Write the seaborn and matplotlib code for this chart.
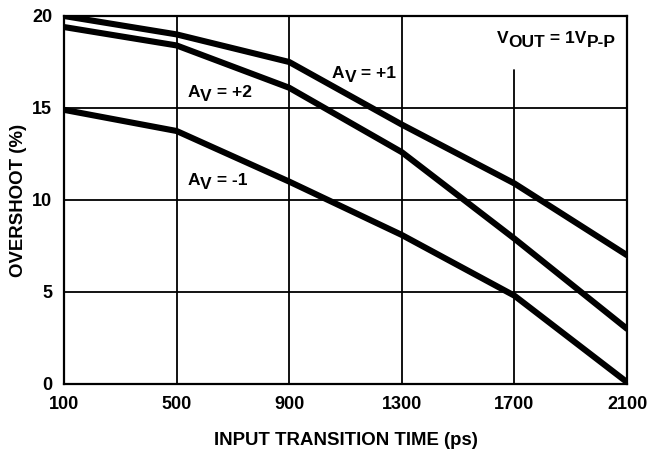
import matplotlib
matplotlib.use("Agg")
import matplotlib.pyplot as plt
import seaborn as sns
import pandas as pd

x_vals = [100, 500, 900, 1300, 1700, 2100]
av_p1 = [20.0, 19.0, 17.5, 14.1, 10.9, 7.0]
av_p2 = [19.4, 18.4, 16.1, 12.6, 7.9, 3.0]
av_m1 = [14.9, 13.75, 11.0, 8.1, 4.8, 0.1]
series_names = ["AV=+1", "AV=+2", "AV=-1"]
x_ticks = [100, 500, 900, 1300, 1700, 2100]
y_ticks = [0, 5, 10, 15, 20]

sns.set_theme(style="white")
plt.rcParams["font.family"] = ["Liberation Sans", "DejaVu Sans"]
plt.rcParams["font.weight"] = "bold"

rows = []
for name, ys in zip(series_names, [av_p1, av_p2, av_m1]):
    for xv, yv in zip(x_vals, ys):
        rows.append({"x": xv, "y": yv, "series": name})
df = pd.DataFrame(rows)

fig = plt.figure(figsize=(6.61, 4.53), dpi=100)
ax = fig.add_axes([64/661, 1-384/453, (627-64)/661, (384-16)/453])

for xt in x_ticks[1:-1]:
    top = 0.853 if xt == 1700 else 1.0
    ax.axvline(xt, ymin=0, ymax=top, color="black", lw=1.3, zorder=1)
for yt in y_ticks[1:-1]:
    ax.axhline(yt, color="black", lw=1.3, zorder=1)

sns.lineplot(data=df, x="x", y="y", hue="series",
             palette={n: "black" for n in series_names},
             lw=4.4, legend=False, ax=ax, zorder=3, sort=False)

ax.set_xlim(100, 2100)
ax.set_ylim(0, 20)
ax.set_xticks(x_ticks)
ax.set_yticks(y_ticks)
ax.set_xticklabels([str(t) for t in x_ticks], fontsize=13, fontweight="bold")
ax.set_yticklabels([str(t) for t in y_ticks], fontsize=13, fontweight="bold")
ax.tick_params(axis="x", length=0, pad=8.5, colors="black")
ax.tick_params(axis="y", length=0, pad=8.5, colors="black")
for s in ax.spines.values():
    s.set_color("black")
    s.set_linewidth(1.6)

ax.set_xlabel("INPUT TRANSITION TIME (ps)", fontsize=13.4, fontweight="bold", labelpad=14, color="black")
ax.set_ylabel("OVERSHOOT (%)", fontsize=13.4, fontweight="bold", labelpad=4, color="black")


def sub_label(x, y, parts, size=12.5, drop=3.2):
    """parts: list of (text, is_subscript)"""
    level_prev = 0.0
    t = None
    for s, is_sub in parts:
        level = -drop if is_sub else 0.0
        if t is None:
            t = ax.text(x, y, s, ha="left", va="baseline", fontsize=size,
                        fontweight="bold", color="black", zorder=5)
        else:
            t = ax.annotate(s, xy=(1, 0), xycoords=t,
                            xytext=(0, level - level_prev), textcoords="offset points",
                            ha="left", va="bottom", fontsize=size,
                            fontweight="bold", color="black", zorder=5)
        level_prev = level
    return t


sub_label(540, 15.6, [("A", False), ("V", True), (" = +2", False)])
sub_label(1052, 16.63, [("A", False), ("V", True), (" = +1", False)])
sub_label(540, 10.82, [("A", False), ("V", True), (" = -1", False)])
sub_label(1638, 18.53, [("V", False), ("OUT", True), (" = 1V", False), ("P-P", True)])

fig.savefig("out.png", dpi=100)
